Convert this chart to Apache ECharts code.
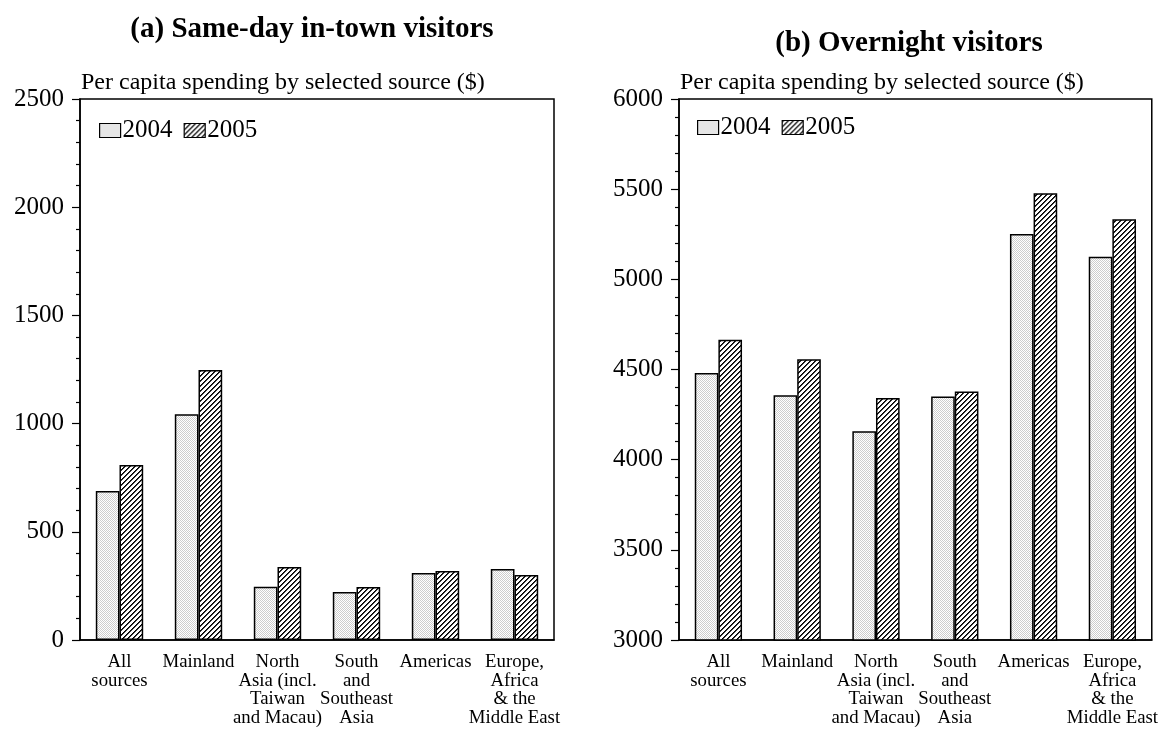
<!DOCTYPE html>
<html>
<head>
<meta charset="utf-8">
<script src="https://cdn.jsdelivr.net/npm/echarts@6/dist/echarts.min.js"></script>
<style>
  html, body { margin: 0; padding: 0; background: #fff; }
  #chart { width: 1161px; height: 731px; }
</style>
</head>
<body>
<div id="chart"></div>
<script>
// Source markets
const categories = [
  'All\nsources',
  'Mainland',
  'North\nAsia (incl.\nTaiwan\nand Macau)',
  'South\nand\nSoutheast\nAsia',
  'Americas',
  'Europe,\nAfrica\n& the\nMiddle East'
];
const years = ['2004', '2005'];

// Per capita spending ($), same-day in-town visitors
const sameDay2004 = [688, 1043, 246, 222, 310, 328];
const sameDay2005 = [809, 1248, 337, 245, 319, 300];

// Per capita spending ($), overnight visitors
const overnight2004 = [4480, 4357, 4157, 4350, 5252, 5125];
const overnight2005 = [4665, 4557, 4342, 4378, 5478, 5333];

const FONT = '"Liberation Serif", "DejaVu Serif", serif';

// Fill patterns: fine stipple for 2004, "////" hatch for 2005
function stipple() {
  const c = document.createElement('canvas');
  c.width = 4; c.height = 4;
  const g = c.getContext('2d');
  g.fillStyle = '#ffffff'; g.fillRect(0, 0, 4, 4);
  g.fillStyle = '#cdcdcd';
  for (let y = 0; y < 4; y++) for (let x = 0; x < 4; x++) {
    if ((x + y) % 2 === 0) g.fillRect(x, y, 1, 1);
  }
  return c;
}
function hatch() {
  const n = 5;
  const c = document.createElement('canvas');
  c.width = n; c.height = n;
  const g = c.getContext('2d');
  g.fillStyle = '#ffffff'; g.fillRect(0, 0, n, n);
  for (let y = 0; y < n; y++) for (let x = 0; x < n; x++) {
    const k = (x + y) % n;
    if (k === 0) { g.fillStyle = '#000000'; g.fillRect(x, y, 1, 1); }
    else if (k === 1) { g.fillStyle = '#3a3a3a'; g.fillRect(x, y, 1, 1); }
  }
  return c;
}
const fill2004 = { image: stipple(), repeat: 'repeat' };
const fill2005 = { image: hatch(), repeat: 'repeat' };

const grids = [
  { left: 80, right: 607, top: 99, bottom: 91 },
  { left: 679, right: 9, top: 99, bottom: 91 }
];

function xAxisFor(i) {
  return {
    type: 'category', gridIndex: i, data: categories,
    axisLine: { lineStyle: { color: '#000', width: 1.5 } },
    axisTick: { alignWithLabel: true, length: 8, lineStyle: { color: '#000', width: 1.2 } },
    axisLabel: { color: '#000', fontFamily: FONT, fontSize: 18.8, lineHeight: 18.5, margin: 13, interval: 0 },
    splitLine: { show: false }
  };
}
function yAxisFor(i, min, max) {
  return {
    type: 'value', gridIndex: i, min: min, max: max, interval: 500,
    axisLine: { show: true, lineStyle: { color: '#000', width: 1.5 } },
    axisTick: { show: true, length: 8, lineStyle: { color: '#000', width: 1.2 } },
    minorTick: { show: true, splitNumber: 5, length: 4, lineStyle: { color: '#000', width: 1.2 } },
    axisLabel: { color: '#000', fontFamily: FONT, fontSize: 25, margin: 16, formatter: v => String(v) },
    splitLine: { show: false }
  };
}
function barSeries(name, data, i, fill) {
  return {
    name: name, type: 'bar', xAxisIndex: i, yAxisIndex: i, data: data,
    barWidth: '30%', barGap: '0%',
    itemStyle: { color: fill, borderColor: '#000', borderWidth: 1.5 },
    emphasis: { disabled: true }
  };
}
function legendFor(left, top) {
  return {
    left: left, top: top, data: years, icon: 'rect',
    itemWidth: 21, itemHeight: 14, itemGap: 11,
    itemStyle: { borderColor: '#000', borderWidth: 1.2 },
    textStyle: { color: '#000', fontFamily: FONT, fontSize: 25, padding: [0, 0, 0, -3] },
    selectedMode: false
  };
}

const chart = echarts.init(document.getElementById('chart'), null, { renderer: 'canvas' });
chart.setOption({
  backgroundColor: '#fff',
  animation: false,
  title: [
    { text: '(a) Same-day in-town visitors', left: 307, top: 10, textAlign: 'center',
      textStyle: { fontFamily: FONT, fontSize: 29, fontWeight: 'bold', color: '#000' } },
    { text: '(b) Overnight visitors', left: 904, top: 24, textAlign: 'center',
      textStyle: { fontFamily: FONT, fontSize: 29, fontWeight: 'bold', color: '#000' } },
    { text: 'Per capita spending by selected source ($)', left: 76, top: 66,
      textStyle: { fontFamily: FONT, fontSize: 24, fontWeight: 'normal', color: '#000' } },
    { text: 'Per capita spending by selected source ($)', left: 675, top: 66,
      textStyle: { fontFamily: FONT, fontSize: 24, fontWeight: 'normal', color: '#000' } }
  ],
  legend: [legendFor(94, 113), legendFor(692, 110)],
  grid: grids.map(g => Object.assign({ show: true, borderColor: '#000', borderWidth: 1.5, backgroundColor: 'transparent' }, g)),
  xAxis: [xAxisFor(0), xAxisFor(1)],
  yAxis: [yAxisFor(0, 0, 2500), yAxisFor(1, 3000, 6000)],
  series: [
    barSeries(years[0], sameDay2004, 0, fill2004),
    barSeries(years[1], sameDay2005, 0, fill2005),
    barSeries(years[0], overnight2004, 1, fill2004),
    barSeries(years[1], overnight2005, 1, fill2005)
  ]
});
</script>
</body>
</html>
